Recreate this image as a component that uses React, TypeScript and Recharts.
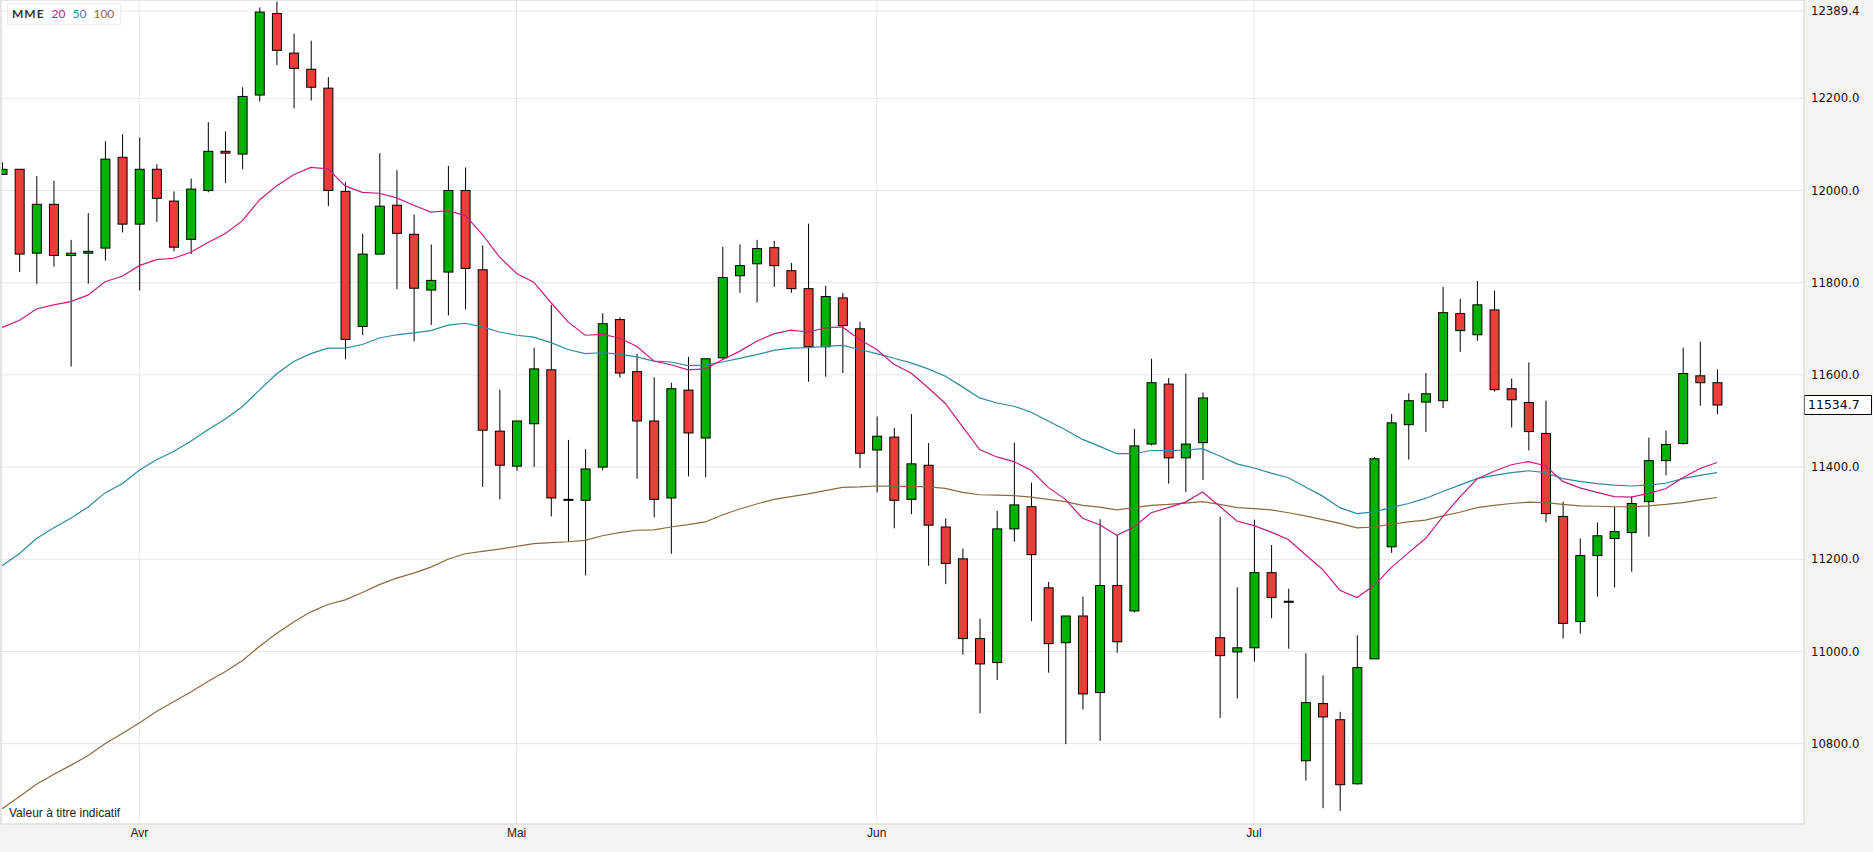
import { ComposedChart, Bar, Line, XAxis, YAxis, CartesianGrid, ReferenceLine } from "recharts";

// OHLC, one entry per trading day (22 Mar -> 9 Aug)
const opens = [
  12035, 12046, 11864, 11970, 11859, 11864, 11875, 12072, 11927, 12046,
  11977, 11894, 12000, 12085, 12079, 12207, 12384, 12298, 12263, 12222,
  11998, 11705, 11862, 11968, 11905, 11784, 11823, 12000, 11828, 11478,
  11402, 11494, 11611, 11330, 11328, 11400, 11720, 11607, 11500, 11333,
  11567, 11463, 11637, 11815, 11841, 11876, 11826, 11787, 11661, 11767,
  11700, 11437, 11465, 11330, 11404, 11270, 11201, 11028, 10976, 11266,
  11314, 11138, 11019, 11077, 10911, 11143, 11088, 11450, 11580, 11420,
  11453, 11030, 10999, 11008, 11171, 11109, 10763, 10887, 10852, 10713,
  10984, 11227, 11492, 11541, 11544, 11733, 11687, 11741, 11570, 11540,
  11473, 11293, 11065, 11208, 11245, 11258, 11325, 11414, 11451, 11598,
  11583,
];
const highs = [
  12061, 12046, 12031, 12021, 11893, 11951, 12107, 12122, 12115, 12057,
  11998, 12026, 12148, 12128, 12224, 12397, 12410, 12340, 12325, 12246,
  12018, 11906, 12081, 12044, 11948, 11883, 12053, 12050, 11881, 11568,
  11500, 11659, 11752, 11459, 11439, 11734, 11725, 11646, 11595, 11583,
  11639, 11635, 11878, 11883, 11893, 11891, 11843, 11928, 11793, 11778,
  11715, 11510, 11485, 11515, 11452, 11289, 11223, 11071, 11305, 11453,
  11366, 11151, 11077, 11119, 11287, 11253, 11483, 11635, 11593, 11603,
  11562, 11292, 11139, 11286, 11231, 11136, 10996, 10948, 10869, 11035,
  11422, 11515, 11560, 11604, 11791, 11765, 11804, 11783, 11592, 11627,
  11544, 11325, 11245, 11280, 11314, 11337, 11464, 11479, 11659, 11672,
  11612,
];
const lows = [
  12035, 11823, 11797, 11835, 11618, 11798, 11848, 11909, 11783, 11932,
  11868, 11862, 11996, 12016, 12046, 12193, 12272, 12178, 12195, 11966,
  11634, 11686, 11862, 11786, 11673, 11708, 11729, 11742, 11357, 11330,
  11392, 11400, 11293, 11238, 11165, 11393, 11594, 11375, 11291, 11212,
  11380, 11378, 11633, 11778, 11757, 11791, 11778, 11585, 11596, 11604,
  11398, 11345, 11267, 11298, 11186, 11146, 10993, 10866, 10938, 11238,
  11066, 10954, 10799, 10874, 10806, 10997, 11085, 11447, 11364, 11346,
  11372, 10856, 10898, 10978, 11072, 11006, 10720, 10660, 10654, 10711,
  10984, 11214, 11416, 11476, 11528, 11650, 11674, 11564, 11486, 11436,
  11280, 11028, 11039, 11119, 11139, 11173, 11249, 11382, 11449, 11533,
  11515,
];
const closes = [
  12046, 11862, 11970, 11859, 11864, 11868, 12068, 11927, 12046, 11983,
  11877, 12003, 12085, 12081, 12204, 12387, 12304, 12265, 12224, 12000,
  11677, 11862, 11966, 11907, 11788, 11805, 12000, 11831, 11480, 11404,
  11500, 11613, 11333, 11330, 11396, 11711, 11604, 11500, 11330, 11570,
  11474, 11635, 11811, 11837, 11874, 11837, 11787, 11661, 11770, 11707,
  11430, 11467, 11328, 11407, 11274, 11191, 11028, 10973, 11266, 11318,
  11210, 11017, 11077, 10908, 11143, 11021, 11446, 11583, 11420, 11450,
  11550, 10991, 11008, 11171, 11117, 11109, 10889, 10858, 10711, 10965,
  11418, 11496, 11544, 11559, 11735, 11696, 11752, 11568, 11546, 11477,
  11299, 11061, 11208, 11251, 11260, 11321, 11414, 11449, 11603, 11583,
  11534.7,
];

// moving averages as drawn (MME 20 / 50 / 100)
const mme20 = [
  11703, 11718, 11743, 11752, 11759, 11773, 11802, 11814, 11837, 11850,
  11853, 11866, 11887, 11906, 11934, 11979, 12010, 12034, 12050, 12047,
  12010, 11996, 11994, 11984, 11968, 11953, 11956, 11946, 11905, 11856,
  11820, 11801, 11757, 11715, 11686, 11688, 11680, 11662, 11630, 11622,
  11611, 11613, 11633, 11651, 11673, 11689, 11697, 11693, 11702, 11704,
  11677, 11655, 11623, 11604, 11572, 11538, 11488, 11438, 11422, 11412,
  11393, 11356, 11330, 11289, 11275, 11252, 11270, 11301, 11312, 11324,
  11346, 11315, 11283, 11273, 11259, 11243, 11210, 11178, 11133, 11117,
  11143, 11182, 11214, 11245, 11292, 11335, 11374, 11391, 11405, 11412,
  11403, 11369, 11355, 11345, 11336, 11335, 11343, 11353, 11377, 11397,
  11410,
];
const mme50 = [
  11186, 11212, 11245, 11268, 11289, 11313, 11344, 11364, 11393, 11416,
  11434, 11456, 11481, 11504, 11531, 11567, 11602, 11629, 11646, 11658,
  11658, 11666, 11680, 11687, 11691, 11696, 11708, 11712, 11704, 11693,
  11686, 11682, 11670, 11655, 11646, 11648, 11645, 11639, 11630, 11628,
  11620, 11621, 11628, 11636, 11644, 11653, 11658, 11659, 11662, 11664,
  11655, 11646, 11636, 11626, 11613, 11597, 11574, 11550, 11539, 11532,
  11519, 11500, 11481, 11460, 11445, 11429, 11429, 11436, 11436, 11437,
  11440, 11424, 11407, 11398, 11387, 11377, 11357, 11337, 11312, 11299,
  11303, 11312, 11321, 11332, 11347, 11361, 11375, 11382, 11388, 11392,
  11388, 11375, 11369, 11364, 11361, 11359, 11361, 11365, 11375, 11382,
  11388,
];
const mme100 = [
  10659, 10685, 10712, 10733, 10753, 10774, 10800, 10822, 10845, 10870,
  10891, 10912, 10935, 10956, 10980, 11011, 11039, 11064, 11086, 11102,
  11112, 11128, 11145, 11159, 11170, 11183, 11200, 11212, 11217, 11222,
  11228, 11234, 11236, 11238, 11241, 11251, 11258, 11263, 11264, 11270,
  11275, 11281, 11296, 11309, 11320, 11330, 11336, 11342, 11349, 11356,
  11357, 11359, 11358, 11358, 11357, 11354, 11345, 11340, 11339, 11338,
  11335, 11330, 11325, 11317, 11313, 11307, 11312, 11317, 11319, 11322,
  11325, 11319, 11312, 11310, 11307, 11301, 11294, 11286, 11278, 11268,
  11270, 11276, 11281, 11285, 11294, 11302, 11312, 11317, 11321, 11324,
  11323, 11319, 11316, 11315, 11314, 11314, 11316, 11319, 11323, 11329,
  11334,
];

const monthTicks = [8, 30, 51, 73];
const monthLabels = ["Avr", "Mai", "Jun", "Jul"];
const priceTicks = [10800, 11000, 11200, 11400, 11600, 11800, 12000, 12200, 12389.4];
const lastPrice = 11534.7;

const X_DOMAIN: [number, number] = [-0.064, 105.07];
const Y_DOMAIN: [number, number] = [10625.8, 12413.2];

const UP = "#00b200";
const DOWN = "#ea3f38";
const C20 = "#c41d7f";
const C50 = "#2a8b9e";
const C100 = "#8c6a3c";
const GRID = "#e6e6e6";
const BORDER = "#dadada";

const data = closes.map((close, i) => ({
  i,
  open: opens[i],
  high: highs[i],
  low: lows[i],
  close,
  range: [lows[i], highs[i]],
  mme20: mme20[i],
  mme50: mme50[i],
  mme100: mme100[i],
}));

const Candle = (props: any) => {
  const { x, y, width, height, payload } = props;
  if (payload == null || height == null) return null;
  const { open, close, high, low } = payload;
  const top = Math.min(y, y + height);
  const h = Math.abs(height);
  const k = h / (high - low);
  const cx = x + width / 2;
  const bTop = top + (high - Math.max(open, close)) * k;
  const bBot = top + (high - Math.min(open, close)) * k;
  return (
    <g>
      <line x1={cx} x2={cx} y1={top} y2={top + h} stroke="#000" strokeWidth={1} />
      <rect
        x={cx - 4.5}
        y={bTop}
        width={9}
        height={Math.max(bBot - bTop, 1)}
        fill={close >= open ? UP : DOWN}
        stroke="#000"
        strokeWidth={1}
      />
    </g>
  );
};

const PriceTag = (props: any) => {
  const vb = props.viewBox;
  if (!vb) return null;
  const x = vb.x + vb.width;
  const y = vb.y;
  return (
    <g>
      <rect x={x + 0.5} y={y - 9.5} width={67} height={19} fill="#fff" stroke="#000" strokeWidth={1} />
      <text x={x + 4} y={y} dy="0.36em" fontSize={12.5} fontFamily="DejaVu Sans" fill="#000">
        {lastPrice.toFixed(1)}
      </text>
    </g>
  );
};

export default function App() {
  return (
    <div
      style={{
        position: "absolute",
        left: 0,
        top: 0,
        width: 1873,
        height: 852,
        background: "#f4f3ef",
      }}
    >
      <ComposedChart width={1873} height={852} data={data} margin={{ top: 0, right: 0, bottom: 0, left: 1 }}>
        <CartesianGrid stroke={GRID} fill="#fff" />
        <XAxis
          dataKey="i"
          type="number"
          domain={X_DOMAIN}
          allowDataOverflow
          ticks={monthTicks}
          interval={0}
          tickFormatter={(v) => monthLabels[monthTicks.indexOf(v)] ?? ""}
          tickLine={false}
          tickSize={3}
          tickMargin={1}
          height={28}
          axisLine={{ stroke: BORDER }}
          tick={{ fontSize: 12, fontFamily: "Liberation Sans Narrow, Arial Narrow, sans-serif", fill: "#222" }}
        />
        <YAxis
          orientation="right"
          domain={Y_DOMAIN}
          allowDataOverflow
          ticks={priceTicks}
          interval={0}
          tickFormatter={(v) => Number(v).toFixed(1)}
          tickLine={false}
          tickSize={5}
          tickMargin={2}
          width={69}
          axisLine={{ stroke: BORDER }}
          tick={{ fontSize: 11.7, fontFamily: "DejaVu Sans", fill: "#111", textAnchor: "start" }}
        />
        <ReferenceLine x={X_DOMAIN[0]} stroke={BORDER} />
        <ReferenceLine y={Y_DOMAIN[1]} stroke={BORDER} />
        <Line dataKey="mme100" type="linear" stroke={C100} strokeWidth={1.2} dot={false} isAnimationActive={false} />
        <Line dataKey="mme50" type="linear" stroke={C50} strokeWidth={1.2} dot={false} isAnimationActive={false} />
        <Line dataKey="mme20" type="linear" stroke={C20} strokeWidth={1.2} dot={false} isAnimationActive={false} />
        <Bar dataKey="range" barSize={10} shape={<Candle />} isAnimationActive={false} />
        <ReferenceLine y={lastPrice} strokeOpacity={0} label={<PriceTag />} />
      </ComposedChart>
      <div
        style={{
          position: "absolute",
          left: 7,
          top: 3,
          height: 20,
          padding: "0 6px 0 4px",
          background: "#fff",
          border: "1px solid #eeeeec",
          display: "flex",
          alignItems: "center",
          gap: 7,
          fontFamily: "Lato, 'Open Sans', sans-serif",
          fontSize: 12,
          lineHeight: "20px",
        }}
      >
        <span style={{ fontWeight: 700, color: "#333", letterSpacing: 1 }}>MME</span>
        <span style={{ color: C20 }}>20</span>
        <span style={{ color: C50 }}>50</span>
        <span style={{ color: C100 }}>100</span>
      </div>
      <div
        style={{
          position: "absolute",
          left: 9,
          top: 806,
          fontFamily: "Liberation Sans Narrow, Arial Narrow, sans-serif",
          fontSize: 12,
          color: "#222",
        }}
      >
        Valeur à titre indicatif
      </div>
    </div>
  );
}
